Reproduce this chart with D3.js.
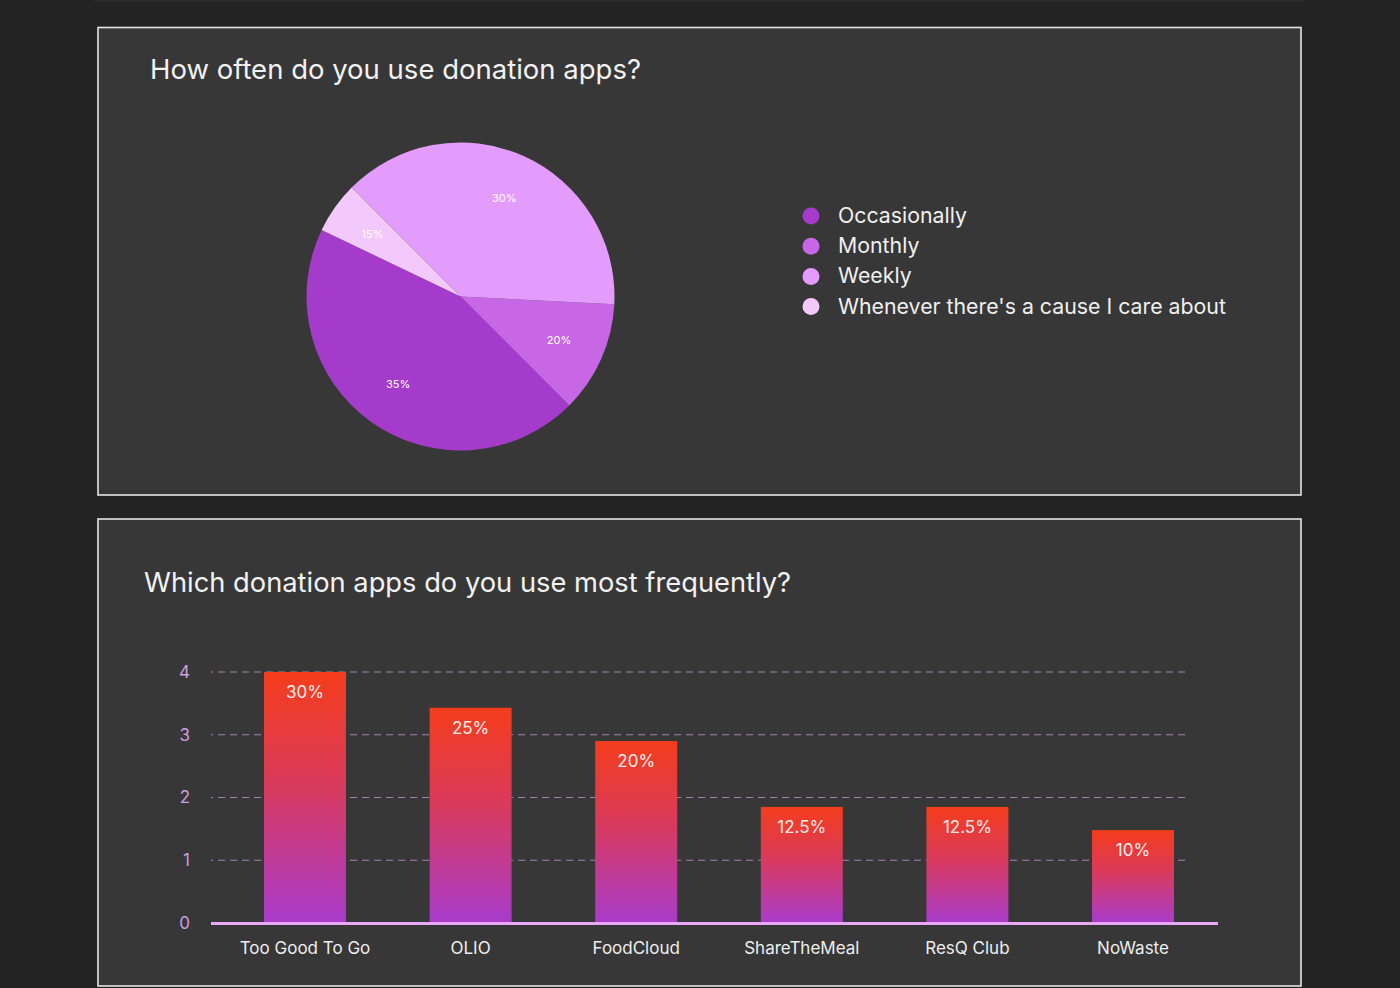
<!DOCTYPE html>
<html>
<head>
<meta charset="utf-8">
<script src="https://cdn.jsdelivr.net/npm/d3@7"></script>
<style>
  html, body { margin: 0; padding: 0; background: #232323; }
  svg { display: block; font-family: Inter, "Noto Sans", sans-serif; }
</style>
</head>
<body>
<svg id="chart" width="1400" height="988"></svg>
<script>
// ---------- DATA ----------
const pieCategories = ["Occasionally", "Monthly", "Weekly", "Whenever there's a cause I care about"];
const pieWeights    = [44.6, 11.7, 38.3, 5.4];      // slice sizes as drawn in the picture (% of circle)
const pieLabels     = ["35%", "20%", "30%", "15%"]; // labels printed on the slices
const pieColors     = ["#a53bcb", "#c767e6", "#e49cfc", "#f3c9fb"];

const barCategories = ["Too Good To Go", "OLIO", "FoodCloud", "ShareTheMeal", "ResQ Club", "NoWaste"];
const barValues     = [4, 3.43, 2.9, 1.85, 1.85, 1.48];
const barLabels     = ["30%", "25%", "20%", "12.5%", "12.5%", "10%"];
const yTicks        = [0, 1, 2, 3, 4];

const title1 = "How often do you use donation apps?";
const title2 = "Which donation apps do you use most frequently?";

// ---------- SETUP ----------
const svg = d3.select("#chart");

svg.append("rect").attr("x", 0).attr("y", 0).attr("width", 1400).attr("height", 988).attr("fill", "#232323");
// hint of the previous panel at the very top
svg.append("rect").attr("x", 94).attr("y", -20).attr("width", 1210).attr("height", 22)
  .attr("fill", "#2c2c2c");

function panel(y, h) {
  svg.append("rect").attr("x", 98).attr("y", y).attr("width", 1203).attr("height", h)
    .attr("fill", "#373737").attr("stroke", "#e4e4e4").attr("stroke-width", 1.6);
}
panel(27.5, 467.5);
panel(519, 467);

// ---------- PIE ----------
svg.append("text").attr("x", 150).attr("y", 79).attr("fill", "#f2f2f2")
  .attr("font-size", 27.5).attr("font-weight", 400).text(title1);

const cx = 460.5, cy = 296.5, R = 154;
const a0 = 295.6 * Math.PI / 180;
const pie = d3.pie().sort(null).value(d => d).startAngle(a0).endAngle(a0 - 2 * Math.PI);
const arcs = pie(pieWeights);
const arc = d3.arc().innerRadius(0).outerRadius(R);
const labelArc = d3.arc().innerRadius(R * 0.7).outerRadius(R * 0.7);

const gPie = svg.append("g").attr("transform", `translate(${cx},${cy})`);
gPie.selectAll("path.slice").data(arcs).enter().append("path")
  .attr("class", "slice")
  .attr("d", arc)
  .attr("fill", (d, i) => pieColors[i]);

gPie.selectAll("text.plabel").data(arcs).enter().append("text")
  .attr("class", "plabel")
  .attr("transform", d => `translate(${labelArc.centroid(d)})`)
  .attr("text-anchor", "middle")
  .attr("dy", "0.35em")
  .attr("font-size", 11)
  .attr("fill", "#ffffff")
  .text((d, i) => pieLabels[i]);

// legend
const gLeg = svg.append("g").attr("transform", "translate(811,216)");
const leg = gLeg.selectAll("g").data(pieCategories).enter().append("g")
  .attr("transform", (d, i) => `translate(0,${i * 30.2})`);
leg.append("circle").attr("r", 8.5).attr("fill", (d, i) => pieColors[i]);
leg.append("text").attr("x", 27).attr("y", 7).attr("font-size", 21.3)
  .attr("fill", "#f0f0f0").text(d => d);

// ---------- BARS ----------
svg.append("text").attr("x", 144).attr("y", 592).attr("fill", "#f2f2f2")
  .attr("font-size", 27.3).attr("font-weight", 400).text(title2);

const x = d3.scaleBand().domain(barCategories).range([222.2, 1215.8])
  .paddingInner(0.505).paddingOuter(0.2525);
const y = d3.scaleLinear().domain([0, 4]).range([923, 672]);

const defs = svg.append("defs");
const grad = defs.append("linearGradient").attr("id", "barGrad")
  .attr("x1", 0).attr("y1", 0).attr("x2", 0).attr("y2", 1);
grad.append("stop").attr("offset", "0%").attr("stop-color", "#f43d1c");
grad.append("stop").attr("offset", "45%").attr("stop-color", "#d93a5c");
grad.append("stop").attr("offset", "100%").attr("stop-color", "#a83bcc");

// grid
svg.append("g").selectAll("line").data(yTicks.filter(t => t > 0)).enter().append("line")
  .attr("x1", 211).attr("x2", 1188)
  .attr("y1", d => y(d)).attr("y2", d => y(d))
  .attr("stroke", "#a483b3").attr("stroke-width", 1.2)
  .attr("stroke-dasharray", "7,5").attr("stroke-dashoffset", 5);

// y axis labels
const yAxis = svg.append("g").attr("transform", "translate(190,0)")
  .call(d3.axisLeft(y).tickValues(yTicks).tickSize(0).tickPadding(0).tickFormat(d3.format("d")));
yAxis.select(".domain").remove();
yAxis.selectAll("text").attr("font-size", 17).attr("fill", "#cc9fe0")
  .attr("font-family", "Inter, sans-serif");

// bars
svg.append("g").selectAll("rect").data(barValues).enter().append("rect")
  .attr("x", (d, i) => x(barCategories[i]))
  .attr("width", x.bandwidth())
  .attr("y", d => y(d))
  .attr("height", d => y(0) - y(d))
  .attr("fill", "url(#barGrad)");

// bar labels
svg.append("g").selectAll("text").data(barValues).enter().append("text")
  .attr("x", (d, i) => x(barCategories[i]) + x.bandwidth() / 2)
  .attr("y", d => y(d) + 26)
  .attr("text-anchor", "middle")
  .attr("font-size", 17)
  .attr("fill", "#fbeeee")
  .text((d, i) => barLabels[i]);

// baseline
svg.append("line").attr("x1", 211).attr("x2", 1218).attr("y1", y(0) + 0.5).attr("y2", y(0) + 0.5)
  .attr("stroke", "#e9a8f7").attr("stroke-width", 3);

// x axis labels
const xAxis = svg.append("g").attr("transform", `translate(0,${y(0)})`)
  .call(d3.axisBottom(x).tickSize(0).tickPadding(19));
xAxis.select(".domain").remove();
xAxis.selectAll("text").attr("font-size", 17).attr("fill", "#eeeeee")
  .attr("font-family", "Inter, sans-serif");
</script>
</body>
</html>
